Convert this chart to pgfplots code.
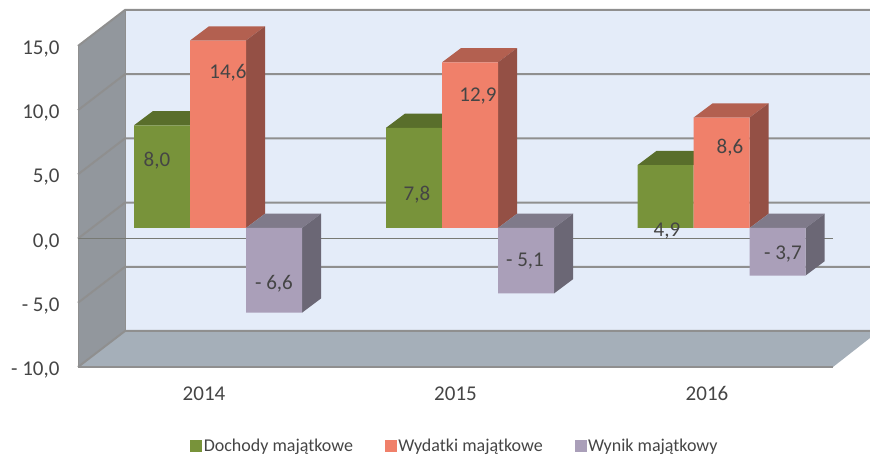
\documentclass[border=0pt]{standalone}
\usepackage{pgfplots}
\pgfplotsset{compat=1.18}
\usepackage{fontspec}
\setmainfont{Carlito}
\definecolor{wall}{HTML}{E4ECF9}
\definecolor{lwall}{HTML}{92979D}
\definecolor{floorc}{HTML}{A5AFB9}
\definecolor{gridc}{HTML}{8F8F8F}
\definecolor{zeroc}{HTML}{787A74}
\definecolor{gfront}{HTML}{78933A}
\definecolor{gtop}{HTML}{596E2B}
\definecolor{rfront}{HTML}{F0806A}
\definecolor{rtop}{HTML}{B36050}
\definecolor{rside}{HTML}{945045}
\definecolor{pfront}{HTML}{AA9FB9}
\definecolor{ptop}{HTML}{7F7A8A}
\definecolor{pside}{HTML}{6B6775}
\definecolor{txt}{HTML}{454545}
\begin{document}
\begin{tikzpicture}
\path[use as bounding box] (0,0) rectangle (870pt,455pt);
% ---------- frame: walls, grid, tick labels ----------
\begin{axis}[
  at={(78pt,88pt)}, anchor=south west,
  scale only axis, width=792pt, height=367pt,
  xmin=78, xmax=870, ymin=-10, ymax=18.58,
  clip=false,
  axis line style={draw=none},
  major tick length=0pt,
  xtick={204,455.5,707},
  xticklabels={2014,2015,2016},
  ytick={-10,-5,0,5,10,15},
  yticklabels={{- 10,0},{- 5,0},{0,0},{5,0},{10,0},{15,0}},
  ticklabel style={font=\fontsize{21}{23}\selectfont, text=txt},
  yticklabel style={yshift=-3pt},
  xticklabel shift=16pt,
  yticklabel shift=15pt,
]
\addplot[fill=wall,draw=none] coordinates {(125,-7.196)(870,-7.196)(870,17.804)(125,17.804)} --cycle;
\addplot[fill=lwall,draw=none] coordinates {(78,-10)(125,-7.196)(125,17.804)(78,15)} --cycle;
\addplot[fill=floorc,draw=none] coordinates {(78,-10)(125,-7.196)(870,-7.196)(870,-7.74)(833,-10)} --cycle;
\addplot[gridc,line width=2pt] coordinates {(78,15)(125,17.804)(870,17.804)};
\addplot[gridc,line width=2pt] coordinates {(78,10)(125,12.804)(870,12.804)};
\addplot[gridc,line width=2pt] coordinates {(78,5)(125,7.804)(870,7.804)};
\addplot[gridc,line width=2pt] coordinates {(78,0)(125,2.804)(870,2.804)};
\addplot[gridc,line width=2pt] coordinates {(78,-5)(125,-2.196)(870,-2.196)};
\addplot[gridc,line width=2pt] coordinates {(78,-10)(125,-7.196)(870,-7.196)};
\addplot[gridc,line width=1pt] coordinates {(125,-7.196)(125,17.804)};
\addplot[gridc,line width=1pt] coordinates {(78,-10)(78,15)};
\addplot[gridc,line width=2pt] coordinates {(78,-10)(833,-10)};
\addplot[zeroc,line width=1.8pt] coordinates {(78,0)(833,0)};
\end{axis}
% ---------- bars ----------
\begin{axis}[
  at={(0pt,0pt)}, anchor=south west,
  scale only axis, width=870pt, height=455pt,
  xmin=0, xmax=870, ymin=-17.679, ymax=17.757,
  hide axis, clip=false,
  legend columns=3,
  legend cell align=left,
  legend style={
    at={(axis cs:455,-16.98)}, anchor=center,
    draw=none, fill=none, inner sep=0pt,
    font=\fontsize{18}{20}\selectfont, text=txt,
    /tikz/every even column/.append style={column sep=30pt},
  },
  legend image code/.code={\fill[#1] (0pt,-5.5pt) rectangle (11pt,5.5pt);},
]
\addlegendimage{gfront}\addlegendentry{Dochody majątkowe}
\addlegendimage{rfront}\addlegendentry{Wydatki majątkowe}
\addlegendimage{pfront}\addlegendentry{Wynik majątkowy}
% green
\addplot[fill=gtop,draw=none,forget plot] coordinates {(134,8)(190,8)(209,9.11)(153,9.11)} --cycle;
\addplot[fill=gtop,draw=none,forget plot] coordinates {(386,7.8)(442,7.8)(461,8.91)(405,8.91)} --cycle;
\addplot[fill=gtop,draw=none,forget plot] coordinates {(637.6,4.9)(693.6,4.9)(712.6,6.01)(656.6,6.01)} --cycle;
\addplot[ybar,bar width=56,bar shift=0pt,fill=gfront,draw=none,forget plot] coordinates {(162,8.0)(414,7.8)(665.6,4.9)};
% red
\addplot[fill=rtop,draw=none,forget plot] coordinates {(190,14.6)(246,14.6)(265,15.71)(209,15.71)} --cycle;
\addplot[fill=rside,draw=none,forget plot] coordinates {(246,0)(265,1.11)(265,15.71)(246,14.6)} --cycle;
\addplot[fill=rtop,draw=none,forget plot] coordinates {(442,12.9)(498,12.9)(517,14.01)(461,14.01)} --cycle;
\addplot[fill=rside,draw=none,forget plot] coordinates {(498,0)(517,1.11)(517,14.01)(498,12.9)} --cycle;
\addplot[fill=rtop,draw=none,forget plot] coordinates {(693.6,8.6)(749.6,8.6)(768.6,9.71)(712.6,9.71)} --cycle;
\addplot[fill=rside,draw=none,forget plot] coordinates {(749.6,0)(768.6,1.11)(768.6,9.71)(749.6,8.6)} --cycle;
\addplot[ybar,bar width=56,bar shift=0pt,fill=rfront,draw=none,forget plot] coordinates {(218,14.6)(470,12.9)(721.6,8.6)};
% purple
\addplot[fill=ptop,draw=none,forget plot] coordinates {(246,0)(302,0)(321,1.11)(265,1.11)} --cycle;
\addplot[fill=pside,draw=none,forget plot] coordinates {(302,0)(321,1.11)(321,-5.49)(302,-6.6)} --cycle;
\addplot[fill=ptop,draw=none,forget plot] coordinates {(498,0)(554,0)(573,1.11)(517,1.11)} --cycle;
\addplot[fill=pside,draw=none,forget plot] coordinates {(554,0)(573,1.11)(573,-3.99)(554,-5.1)} --cycle;
\addplot[fill=ptop,draw=none,forget plot] coordinates {(749.6,0)(805.6,0)(824.6,1.11)(768.6,1.11)} --cycle;
\addplot[fill=pside,draw=none,forget plot] coordinates {(805.6,0)(824.6,1.11)(824.6,-2.59)(805.6,-3.7)} --cycle;
\addplot[ybar,bar width=56,bar shift=0pt,fill=pfront,draw=none,forget plot] coordinates {(274,-6.6)(526,-5.1)(777.6,-3.7)};
% value labels
\begin{scope}[every node/.style={font=\fontsize{21}{23}\selectfont, text=txt, inner sep=0pt, yshift=-0.5pt}]
\node at (axis cs:157,5.30) {8,0};
\node at (axis cs:228,12.15) {14,6};
\node at (axis cs:274,-4.28) {- 6,6};
\node at (axis cs:417,2.65) {7,8};
\node at (axis cs:478,10.28) {12,9};
\node at (axis cs:525,-2.57) {- 5,1};
\node at (axis cs:667,-0.16) {4,9};
\node at (axis cs:730,6.31) {8,6};
\node at (axis cs:783,-1.95) {- 3,7};
\end{scope}
\end{axis}
\end{tikzpicture}
\end{document}
